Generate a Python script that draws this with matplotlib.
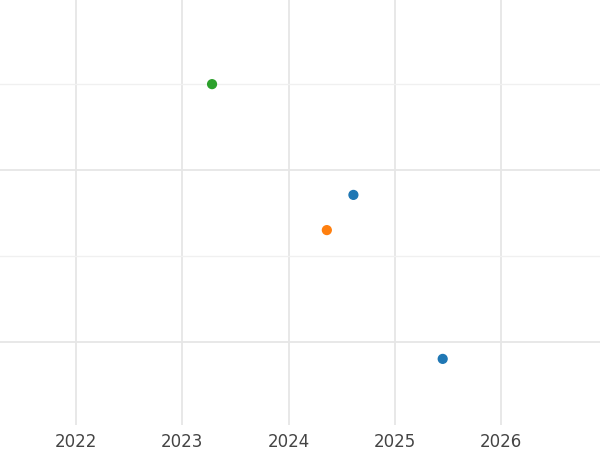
import numpy as np
import matplotlib.pyplot as plt
from matplotlib.ticker import MultipleLocator

# point data (year as decimal, value)
years = [2023.28, 2024.36, 2024.61, 2025.45]
values = [3.0, 1.30, 1.71, -0.20]
colors = ['#2ca02c', '#ff7f0e', '#1f77b4', '#1f77b4']

fig = plt.figure(figsize=(6, 4.5), dpi=100)
ax = fig.add_axes([0, 1 - 425 / 450, 1, 425 / 450])
ax.scatter(years, values, c=colors, s=40, zorder=3)

ax.set_xlim(2021.285, 2026.93)
ax.set_ylim(-0.97, 3.98)
ax.set_xticks([2022, 2023, 2024, 2025, 2026])
ax.yaxis.set_major_locator(MultipleLocator(2))
ax.yaxis.set_minor_locator(MultipleLocator(1))
ax.grid(True, which='major', color='#e6e6e6', linewidth=1.3)
ax.grid(True, which='minor', axis='y', color='#f0f0f0', linewidth=1)
ax.set_axisbelow(True)
ax.tick_params(axis='x', length=0, labelsize=12, labelcolor='#444444', pad=6)
ax.tick_params(axis='y', which='both', length=0, labelleft=False)
for s in ax.spines.values():
    s.set_visible(False)

plt.savefig('out.png')
